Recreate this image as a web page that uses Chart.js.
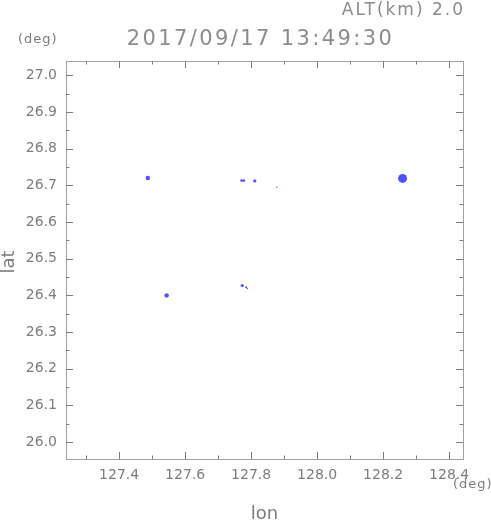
<!DOCTYPE html>
<html>
<head>
<meta charset="utf-8">
<script src="https://cdn.jsdelivr.net/npm/chart.js@4.4.1/dist/chart.umd.min.js"></script>
<style>
  html, body { margin: 0; padding: 0; background: #fff; }
  canvas { display: block; }
</style>
</head>
<body>
<canvas id="echo" width="491" height="521"></canvas>
<script>
// echo cells
const lons = [127.487, 127.771, 127.778, 127.811, 127.878, 128.259, 127.544, 127.773, 127.785, 127.789];
const lats = [26.720, 26.713, 26.713, 26.712, 26.695, 26.719, 26.400, 26.427, 26.422, 26.419];
const sizes = [2.2, 1.3, 1.3, 1.6, 0.7, 4.5, 2.2, 1.6, 1.0, 0.7];

const lon_range = [127.239, 128.442];
const lat_range = [25.954, 27.039];
const title_text = '2017/09/17 13:49:30';
const alt_text = 'ALT(km) 2.0';

const grey = '#7c7c7c';
const light_grey = '#8c8c8c';
const blue = 'rgb(80,80,255)';

let points = [];
for (let i = 0; i < lons.length; i++) {
    points.push({ x: lons[i], y: lats[i] });
};

function is_major (value, step) {
    return Math.round(value / step) % 2 === 0;
}

const frame_plugin = {
    id: 'frame',
    afterDraw (chart) {
        const ctx = chart.ctx;
        const area = chart.chartArea;
        const x = chart.scales.x;
        const y = chart.scales.y;
        ctx.save();
        ctx.strokeStyle = '#a0a0a0';
        ctx.lineWidth = 1;
        ctx.strokeRect(area.left + 0.5, area.top + 0.5, area.right - area.left, area.bottom - area.top);

        ctx.strokeStyle = grey;
        ctx.beginPath();
        x.ticks.forEach(t => {
            const px = Math.round(x.getPixelForValue(t.value)) + 0.5;
            const len = is_major(t.value, 0.1) ? 7 : 3.5;
            ctx.moveTo(px, area.bottom);
            ctx.lineTo(px, area.bottom - len);
            ctx.moveTo(px, area.top);
            ctx.lineTo(px, area.top + len);
        });
        y.ticks.forEach(t => {
            const py = Math.round(y.getPixelForValue(t.value)) + 0.5;
            const len = is_major(t.value, 0.05) ? 7 : 3.5;
            ctx.moveTo(area.left, py);
            ctx.lineTo(area.left + len, py);
            ctx.moveTo(area.right, py);
            ctx.lineTo(area.right - len, py);
        });
        ctx.stroke();

        ctx.fillStyle = light_grey;
        ctx.textBaseline = 'middle';

        ctx.font = '17px "DejaVu Sans"';
        ctx.letterSpacing = '2px';
        ctx.textAlign = 'right';
        ctx.fillText(alt_text, area.right + 2, 11);

        ctx.font = '21px "DejaVu Sans"';
        ctx.letterSpacing = '2.4px';
        ctx.textAlign = 'center';
        ctx.fillText(title_text, (area.left + area.right) / 2 - 4, 40);

        ctx.fillStyle = grey;
        ctx.font = '13px "DejaVu Sans"';
        ctx.letterSpacing = '1px';
        ctx.textAlign = 'left';
        ctx.fillText('(deg)', 18, 40);
        ctx.fillText('(deg)', 453, 485);

        ctx.font = '18px "DejaVu Sans"';
        ctx.letterSpacing = '0px';
        ctx.textAlign = 'center';
        ctx.fillText('lon', (area.left + area.right) / 2, 514);

        ctx.translate(9, 262);
        ctx.rotate(-Math.PI / 2);
        ctx.fillText('lat', 0, 0);
        ctx.restore();
    }
};

const echo_chart = document.getElementById('echo');

new Chart(echo_chart, {
    type: 'scatter',
    data: {
        datasets: [{
            data: points,
            pointRadius: sizes,
            pointHoverRadius: sizes,
            backgroundColor: blue,
            borderWidth: 0
        }]
    },
    options: {
        responsive: false,
        animation: false,
        layout: {
            padding: { top: 61, right: 28, left: 0, bottom: 0 }
        },
        plugins: {
            legend: { display: false },
            tooltip: { enabled: false }
        },
        scales: {
            x: {
                type: 'linear',
                min: lon_range[0],
                max: lon_range[1],
                grid: { display: false, drawTicks: false },
                border: { display: false },
                ticks: {
                    stepSize: 0.1,
                    includeBounds: false,
                    maxTicksLimit: 100,
                    autoSkip: false,
                    maxRotation: 0,
                    padding: 8,
                    color: grey,
                    font: { family: 'DejaVu Sans', size: 14 },
                    callback: v => is_major(v, 0.1) ? v.toFixed(1) : ''
                },
                afterFit: s => { s.height = 62; }
            },
            y: {
                type: 'linear',
                min: lat_range[0],
                max: lat_range[1],
                grid: { display: false, drawTicks: false },
                border: { display: false },
                ticks: {
                    stepSize: 0.05,
                    includeBounds: false,
                    maxTicksLimit: 100,
                    autoSkip: false,
                    padding: 9,
                    color: grey,
                    font: { family: 'DejaVu Sans', size: 14 },
                    callback: v => is_major(v, 0.05) ? v.toFixed(1) : ''
                },
                afterFit: s => { s.width = 66; }
            }
        }
    },
    plugins: [frame_plugin]
});
</script>
</body>
</html>
